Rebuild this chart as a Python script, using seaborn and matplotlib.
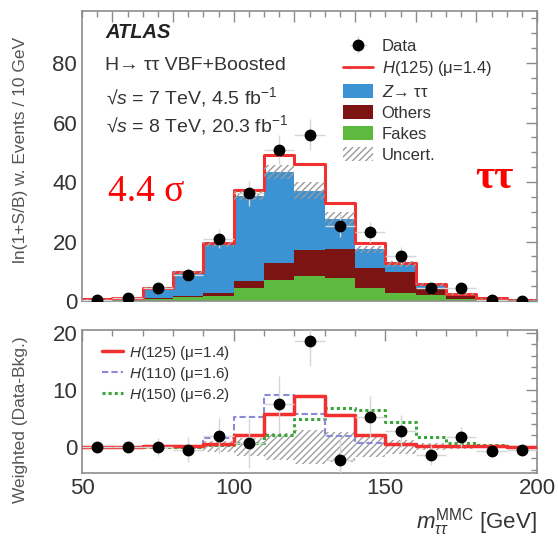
import numpy as np
import pandas as pd
import matplotlib
matplotlib.use("Agg")
import matplotlib.pyplot as plt
import seaborn as sns
from matplotlib.ticker import MultipleLocator
from matplotlib.patches import Patch
from matplotlib.lines import Line2D

# ---------------- data ----------------
bin_edges = [50, 60, 70, 80, 90, 100, 110, 120, 130, 140, 150, 160, 170, 180, 190, 200]
bin_centers = [55, 65, 75, 85, 95, 105, 115, 125, 135, 145, 155, 165, 175, 185, 195]

z_tautau = [0.1, 0.25, 3.2, 7.9, 16.3, 28.6, 30.4, 20.0, 10.2, 6.2, 2.8, 1.3, 0.55, 0.1, 0.05]
others = [0.1, 0.1, 0.3, 0.35, 1.1, 2.25, 5.9, 8.7, 9.5, 6.75, 6.8, 2.4, 0.9, 0.3, 0.15]
fakes = [0.4, 0.5, 0.8, 1.35, 1.7, 4.5, 7.0, 8.4, 7.9, 4.5, 2.8, 1.9, 0.8, 0.5, 0.3]
signal_h125 = [0.0, 0.0, 0.1, 0.2, 0.5, 2.1, 5.8, 8.9, 5.5, 2.0, 0.5, 0.2, 0.1, 0.1, 0.0]
bkg_uncert = [0.2, 0.2, 0.4, 0.6, 0.9, 1.5, 2.3, 2.8, 2.2, 1.2, 1.0, 0.5, 0.3, 0.2, 0.1]

data_top = [0.3, 1.1, 4.3, 8.8, 21.0, 36.2, 50.9, 55.9, 25.3, 23.1, 15.2, 4.3, 4.3, 0.2, 0.05]
data_top_err = [0.8, 1.0, 1.6, 2.2, 3.2, 4.3, 5.0, 5.3, 3.8, 3.6, 2.8, 1.8, 1.8, 0.8, 0.8]

data_sub = [0.05, 0.0, 0.0, -0.5, 1.9, 0.6, 7.5, 18.6, -2.3, 5.3, 2.7, -1.4, 1.7, -0.7, -0.6]
data_sub_err = [0.8, 1.0, 1.6, 2.2, 3.2, 4.3, 5.0, 4.5, 3.8, 3.6, 2.8, 1.8, 1.8, 0.8, 0.8]
h110 = [0.0, 0.0, 0.0, 0.2, 1.5, 5.3, 9.1, 5.7, 1.9, 0.6, 0.35, 0.1, 0.05, 0.0, 0.0]
h150 = [0.0, 0.0, 0.0, 0.0, 0.3, 0.75, 2.1, 4.85, 6.8, 6.5, 4.3, 1.8, 0.75, 0.35, 0.05]
sub_uncert = [0.1, 0.1, 0.2, 0.4, 1.0, 1.6, 2.4, 3.0, 2.6, 1.8, 1.2, 0.6, 0.3, 0.2, 0.1]

processes = ["Z", "Others", "Fakes"]
c_z, c_oth, c_fak = "#3b93d3", "#7d1414", "#5dba3f"
c_red = "#f2302f"

# ---------------- style ----------------
sns.set_theme(style="white")
plt.rcParams['font.family'] = ['Liberation Sans', 'DejaVu Sans']
plt.rcParams['mathtext.fontset'] = 'custom'
plt.rcParams['mathtext.rm'] = 'Liberation Sans'
plt.rcParams['mathtext.it'] = 'Liberation Sans:italic'
plt.rcParams['mathtext.bf'] = 'Liberation Sans:bold'
plt.rcParams['hatch.linewidth'] = 1.0
plt.rcParams['hatch.color'] = '#9a9a9a'

W, H = 558, 539
fig = plt.figure(figsize=(W / 100, H / 100), dpi=100)
ax1 = fig.add_axes([82 / W, 1 - 301 / H, 455 / W, 290 / H])
ax2 = fig.add_axes([82 / W, 1 - 473 / H, 455 / W, 143 / H])

# ---------------- top panel ----------------
stack_df = pd.DataFrame({
    "mass": bin_centers * 3,
    "w": z_tautau + others + fakes,
    "process": [p for p in processes for _ in bin_centers],
})
sns.histplot(data=stack_df, x="mass", weights="w", hue="process", hue_order=processes,
             multiple="stack", bins=bin_edges, element="step", fill=True, alpha=1,
             palette=[c_z, c_oth, c_fak], linewidth=0, legend=False, ax=ax1)

bkg = np.array(z_tautau) + np.array(others) + np.array(fakes)
total = bkg + np.array(signal_h125)
sns.histplot(x=bin_centers, weights=total, bins=bin_edges, element="step", fill=False,
             color=c_red, linewidth=2.2, ax=ax1)

unc = np.array(bkg_uncert)
ax1.bar(bin_centers, 2 * unc, bottom=bkg - unc, width=10, fill=False,
        hatch="/////", edgecolor="#9a9a9a", linewidth=0, zorder=3)

data_h = ax1.errorbar(bin_centers, data_top, yerr=data_top_err, xerr=5, fmt="o",
                      color="black", ms=7.5, ecolor="#d6d6d6", elinewidth=1,
                      capsize=0, zorder=6, label="Data")

ax1.set_xlim(50, 200)
ax1.set_ylim(0, 97.5)
ax1.set_xlabel("")
ax1.set_ylabel("")
ax1.xaxis.set_major_locator(MultipleLocator(20))
ax1.xaxis.set_minor_locator(MultipleLocator(5))
ax1.yaxis.set_major_locator(MultipleLocator(20))
ax1.yaxis.set_minor_locator(MultipleLocator(5))

handles = [data_h, Line2D([], [], color=c_red, lw=2),
           Patch(facecolor=c_z, edgecolor="none"), Patch(facecolor=c_oth, edgecolor="none"),
           Patch(facecolor=c_fak, edgecolor="none"),
           Patch(facecolor="white", edgecolor="#9a9a9a", hatch="/////", lw=0)]
labels = ["Data", "$H$(125) (μ=1.4)", "$Z$→ ττ", "Others", "Fakes", "Uncert."]
ax1.legend(handles, labels, loc="upper left", bbox_to_anchor=(0.574, 0.906),
           frameon=False, fontsize=12, handlelength=1.8, handleheight=0.9,
           handletextpad=0.5, labelspacing=0.32, borderpad=0, borderaxespad=0,
           labelcolor="#333333")

def fx(x):
    return x / W

def fy(y):
    return 1 - y / H

fig.text(fx(105), fy(33), "ATLAS", fontsize=14.5, fontweight="bold", fontstyle="italic",
         va="center", ha="left", color="#222222")
fig.text(fx(105), fy(65), "H→ ττ VBF+Boosted", fontsize=14, va="center", ha="left",
         color="#333333")
fig.text(fx(106), fy(97), "√$s$ = 7 TeV, 4.5 fb$^{-1}$", fontsize=14, va="center",
         ha="left", color="#333333")
fig.text(fx(106), fy(125), "√$s$ = 8 TeV, 20.3 fb$^{-1}$", fontsize=14, va="center",
         ha="left", color="#333333")
fig.text(fx(108), fy(192), "4.4 σ", fontsize=27, family="Liberation Serif", color="#ff0000",
         va="center", ha="left")
fig.text(fx(475), fy(178), "ττ", fontsize=30, family="Liberation Serif", fontweight="bold",
         color="#ff0000", va="center", ha="left")

# ---------------- bottom panel ----------------
su = np.array(sub_uncert)
ax2.bar(bin_centers, 2 * su, bottom=-su, width=10, fill=False, hatch="/////",
        edgecolor="#a0a0a0", linewidth=0, zorder=1)
sns.histplot(x=bin_centers, weights=h150, bins=bin_edges, element="step", fill=False,
             color="#3aa63a", linewidth=2.2, linestyle=(0, (1, 1)), ax=ax2, zorder=3)
sns.histplot(x=bin_centers, weights=h110, bins=bin_edges, element="step", fill=False,
             color="#8a8ad8", linewidth=1.5, linestyle=(0, (3, 1.5)), ax=ax2, zorder=3)
sns.histplot(x=bin_centers, weights=signal_h125, bins=bin_edges, element="step", fill=False,
             color=c_red, linewidth=2.5, ax=ax2, zorder=4)
ax2.errorbar(bin_centers, data_sub, yerr=data_sub_err, xerr=5, fmt="o", color="black",
             ms=7.5, ecolor="#d6d6d6", elinewidth=1, capsize=0, zorder=6)

ax2.set_xlim(50, 200)
ax2.set_ylim(-4.6, 20.5)
ax2.set_ylabel("")
ax2.set_xlabel("")
ax2.xaxis.set_major_locator(MultipleLocator(50))
ax2.xaxis.set_minor_locator(MultipleLocator(10))
ax2.yaxis.set_major_locator(MultipleLocator(10))
ax2.yaxis.set_minor_locator(MultipleLocator(2))

leg2_handles = [Line2D([], [], color=c_red, lw=2.5),
                Line2D([], [], color="#8a8ad8", lw=1.5, ls=(0, (3, 1.5))),
                Line2D([], [], color="#3aa63a", lw=2.2, ls=(0, (1, 1)))]
leg2_labels = ["$H$(125) (μ=1.4)", "$H$(110) (μ=1.6)", "$H$(150) (μ=6.2)"]
ax2.legend(leg2_handles, leg2_labels, loc="upper left", bbox_to_anchor=(0.044, 0.905),
           frameon=False, fontsize=11, handlelength=1.4, handletextpad=0.35,
           labelspacing=0.2, borderpad=0, borderaxespad=0, labelcolor="#333333")

for ax in (ax1, ax2):
    for s in ax.spines.values():
        s.set_color("#8c8c8c")
        s.set_linewidth(1.2)
    ax.tick_params(which="both", direction="in", top=True, right=True, color="#8c8c8c",
                   labelsize=16, labelcolor="#333333", width=1.0)
    ax.tick_params(which="major", length=8)
    ax.tick_params(which="minor", length=4)
ax1.tick_params(labelbottom=False)

fig.text(fx(537), fy(528), "$m_{\\tau\\tau}^{\\mathrm{MMC}}$ [GeV]", fontsize=16,
         color="#333333", ha="right", va="baseline")
fig.text(fx(21), fy(150), "ln(1+S/B) w. Events / 10 GeV", rotation=90, fontsize=12.5,
         color="#555555", ha="center", va="center")
fig.text(fx(21), fy(420), "Weighted (Data-Bkg.)", rotation=90, fontsize=12.5,
         color="#555555", ha="center", va="center")

fig.savefig("out.png", dpi=100)
